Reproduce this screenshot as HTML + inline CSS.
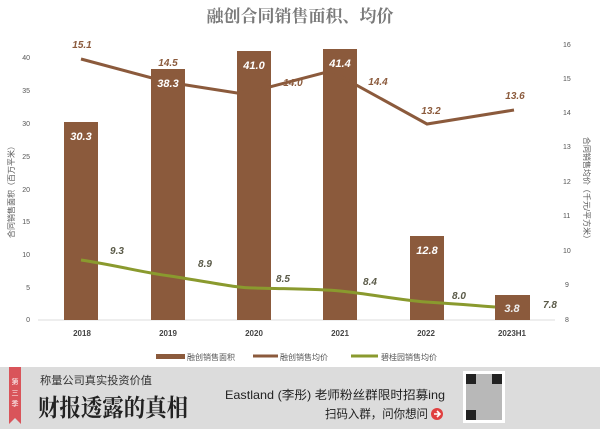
<!DOCTYPE html><html><head><meta charset="utf-8"><style>
body{margin:0;width:600px;height:429px;overflow:hidden;background:#fff;font-family:"Liberation Sans","Noto Sans CJK SC",sans-serif}
</style></head><body>
<svg width="600" height="429" viewBox="0 0 600 429" xmlns="http://www.w3.org/2000/svg" style="position:absolute;left:0;top:0">
<text x="300" y="22" text-anchor="middle" font-family="Noto Serif CJK SC,serif" font-size="17" font-weight="bold" fill="#7a7a7a">融创合同销售面积、均价</text>
<g font-size="7" fill="#555" text-anchor="end">
<text x="30" y="60">40</text><text x="30" y="93">35</text><text x="30" y="126">30</text><text x="30" y="159">25</text><text x="30" y="192">20</text><text x="30" y="224">15</text><text x="30" y="257">10</text><text x="30" y="290">5</text><text x="30" y="322">0</text>
</g>
<g font-size="7" fill="#555">
<text x="563" y="47">16</text><text x="563" y="81">15</text><text x="563" y="115">14</text><text x="563" y="149">13</text><text x="563" y="184">12</text><text x="563" y="218">11</text><text x="563" y="253">10</text><text x="565" y="287">9</text><text x="565" y="322">8</text>
</g>
<text transform="translate(14,190) rotate(-90)" font-size="8" fill="#555" text-anchor="middle">合同销售面积（百万平米）</text>
<text transform="translate(584,190) rotate(90)" font-size="8" fill="#555" text-anchor="middle">合同销售均价（千元/平方米）</text>
<line x1="38" y1="320" x2="555" y2="320" stroke="#ddd"/>
<g fill="#8b5a3c">
<rect x="64" y="122" width="34" height="198"/><rect x="151" y="69" width="34" height="251"/><rect x="237" y="51" width="34" height="269"/><rect x="323" y="49" width="34" height="271"/><rect x="410" y="236" width="34" height="84"/><rect x="495" y="295" width="35" height="25"/>
</g>
<polyline points="81,59 167,82 237,93 254,91 323,73 340,76 427,124 514,110" fill="none" stroke="#8b5a3c" stroke-width="3"/>
<path d="M81,260 C120,266 140,272 170,276 C210,282 235,288 255,288 C290,289 320,289 340,291 C370,294 400,300 426,302 C460,304 480,306 495,307" fill="none" stroke="#8a9a2e" stroke-width="3"/>
<g font-size="11" font-weight="bold" font-style="italic" fill="#fff" text-anchor="middle">
<text x="81" y="140">30.3</text><text x="168" y="87">38.3</text><text x="254" y="69">41.0</text><text x="340" y="67">41.4</text><text x="427" y="254">12.8</text><text x="512" y="312" fill="#eee">3.8</text>
</g>
<g font-size="10" font-weight="bold" font-style="italic" fill="#8b5a3c" text-anchor="middle">
<text x="82" y="48">15.1</text><text x="168" y="66">14.5</text><text x="293" y="86">14.0</text><text x="378" y="85">14.4</text><text x="431" y="114">13.2</text><text x="515" y="99">13.6</text>
</g>
<g font-size="10" font-weight="bold" font-style="italic" fill="#5a5a48" text-anchor="middle">
<text x="117" y="254">9.3</text><text x="205" y="267">8.9</text><text x="283" y="282">8.5</text><text x="370" y="285">8.4</text><text x="459" y="299">8.0</text><text x="550" y="308">7.8</text>
</g>
<g font-size="8" font-weight="bold" fill="#444" text-anchor="middle">
<text x="82" y="336">2018</text><text x="168" y="336">2019</text><text x="254" y="336">2020</text><text x="340" y="336">2021</text><text x="426" y="336">2022</text><text x="512" y="336">2023H1</text>
</g>
<g font-size="8" fill="#555">
<rect x="156" y="354" width="29" height="5" fill="#8b5a3c"/><text x="187" y="360">融创销售面积</text>
<line x1="253" y1="356" x2="278" y2="356" stroke="#8b5a3c" stroke-width="3"/><text x="280" y="360">融创销售均价</text>
<line x1="351" y1="356" x2="378" y2="356" stroke="#8a9a2e" stroke-width="3"/><text x="381" y="360">碧桂园销售均价</text>
</g>
<rect x="0" y="367" width="600" height="62" fill="#dcdcdc"/>
<path d="M9,367 H21 V424 L15,418 L9,424 Z" fill="#d9545a"/>
<text x="15" y="384" font-size="7" fill="#fff" text-anchor="middle">第</text>
<text x="15" y="395" font-size="7" fill="#fff" text-anchor="middle">三</text>
<text x="15" y="406" font-size="7" fill="#fff" text-anchor="middle">季</text>
<text x="40" y="384" font-size="11" fill="#333" textLength="112" lengthAdjust="spacingAndGlyphs">称量公司真实投资价值</text>
<text x="38" y="416" font-family="Noto Serif CJK SC,serif" font-size="24" font-weight="bold" fill="#222" textLength="150" lengthAdjust="spacingAndGlyphs">财报透露的真相</text>
<text x="225" y="399" font-size="12" fill="#222" textLength="220" lengthAdjust="spacingAndGlyphs">Eastland (李彤) 老师粉丝群限时招募ing</text>
<text x="325" y="418" font-size="12" fill="#222" textLength="103" lengthAdjust="spacingAndGlyphs">扫码入群，问你想问</text>
<circle cx="437" cy="414" r="6" fill="#e04040"/><path d="M434,414 H439 M437,411 L440,414 L437,417" stroke="#fff" stroke-width="1.6" fill="none"/>
<rect x="463" y="371" width="42" height="52" fill="#fff"/>
<rect x="466" y="374" width="36" height="46" fill="#888" opacity=".6"/>
<rect x="466" y="374" width="10" height="10" fill="#222"/><rect x="492" y="374" width="10" height="10" fill="#222"/><rect x="466" y="410" width="10" height="10" fill="#222"/>
</svg>
</body></html>
